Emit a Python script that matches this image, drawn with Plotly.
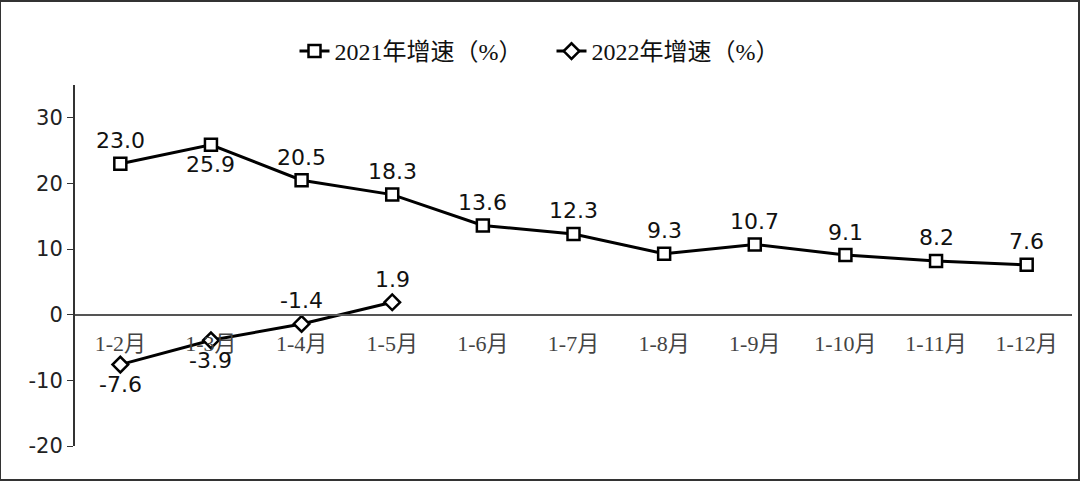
import plotly.graph_objects as go

categories = ["1-2月", "1-3月", "1-4月", "1-5月", "1-6月", "1-7月", "1-8月", "1-9月", "1-10月", "1-11月", "1-12月"]
y2021 = [23.0, 25.9, 20.5, 18.3, 13.6, 12.3, 9.3, 10.7, 9.1, 8.2, 7.6]
y2022 = [-7.6, -3.9, -1.4, 1.9]
pos2021 = ["top", "bottom"] + ["top"] * 9
pos2022 = ["bottom", "bottom", "top", "top"]
name2021 = "2021年增速（%）"
name2022 = "2022年增速（%）"
ytickvals = [-20, -10, 0, 10, 20, 30]
yticktext = ["-20", "-10", "0", "10", "20", "30"]

serif = "Liberation Serif, Noto Sans CJK SC, serif"
sans = "DejaVu Sans, Verdana, sans-serif"

ymin, ymax = -20, 35

fig = go.Figure()
fig.add_trace(go.Scatter(
    x=categories, y=y2021, name=name2021, mode="lines+markers",
    line=dict(color="black", width=3),
    marker=dict(symbol="square", size=12, color="white", line=dict(color="black", width=2.5)),
))
fig.add_trace(go.Scatter(
    x=categories[:len(y2022)], y=y2022, name=name2022, mode="lines+markers",
    line=dict(color="black", width=3),
    marker=dict(symbol="diamond", size=12, color="white", line=dict(color="black", width=2.5)),
))

for xs, ys, ps in [(categories, y2021, pos2021), (categories[:len(y2022)], y2022, pos2022)]:
    for xv, yv, pv in zip(xs, ys, ps):
        fig.add_annotation(x=xv, y=yv, text=f"{yv:.1f}", showarrow=False,
                           yanchor="middle", xanchor="center",
                           yshift=23 if pv == "top" else -20,
                           font=dict(family=sans, size=22, color="#111"))

fig.update_layout(
    width=1080, height=481,
    margin=dict(l=75, r=8, t=85, b=35),
    paper_bgcolor="white", plot_bgcolor="white",
    showlegend=True,
    legend=dict(orientation="h", x=0.5 - 22 / 997, xanchor="center", y=1 - 29 / 481, yref="container", yanchor="top",
                font=dict(family=serif, size=24, color="#111"), itemwidth=30,
                traceorder="normal", bgcolor="rgba(0,0,0,0)", entrywidth=212),
    xaxis=dict(
        type="category", range=[-0.5, len(categories) - 0.5],
        showgrid=False, showline=True, linecolor="#555", linewidth=2,
        anchor="free", position=(0 - ymin) / (ymax - ymin),
        ticks="", ticklabelstandoff=9, tickfont=dict(family=serif, size=22, color="#444"),
        zeroline=False,
    ),
    yaxis=dict(
        range=[ymin, ymax], tickvals=ytickvals, ticktext=yticktext, showgrid=False, zeroline=False,
        showline=True, linecolor="#333", linewidth=2,
        ticks="outside", ticklen=6, tickcolor="#333",
        tickfont=dict(family=sans, size=21, color="#222"),
    ),
)
fig.add_shape(type="rect", xref="paper", yref="paper",
              x0=-75/997, x1=1 + 7/997, y0=-34/361, y1=1 + 84/361,
              line=dict(color="#333", width=2))

fig.write_html("out.html")
